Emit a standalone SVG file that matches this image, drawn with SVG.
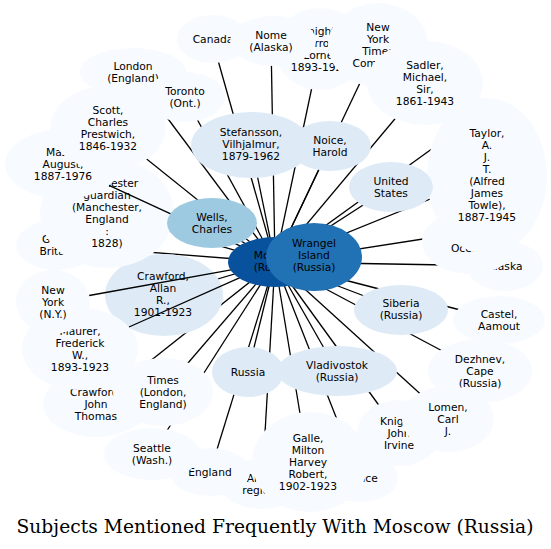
<svg xmlns="http://www.w3.org/2000/svg" width="551" height="549" viewBox="0 0 551 549">
<style>
text{font-family:"DejaVu Sans","Liberation Sans",sans-serif;font-size:10.7px;text-anchor:middle;fill:#000}
text.t{font-family:"DejaVu Serif","Liberation Serif",serif;font-size:18.67px}
.c1{fill:#f7fbff}.c2{fill:#deebf7}.c4{fill:#9ecae1}.c6{fill:#2171b5}.c8{fill:#08519c}
.e line{stroke:#000;stroke-width:1.3}
</style>
<rect width="551" height="549" fill="#fff"/>
<g id="edges" class="e">
<line x1="275" y1="262" x2="212" y2="39"/>
<line x1="275" y1="262" x2="271" y2="41"/>
<line x1="275" y1="262" x2="320" y2="49"/>
<line x1="275" y1="262" x2="378" y2="45"/>
<line x1="275" y1="262" x2="425" y2="83"/>
<line x1="275" y1="262" x2="465" y2="125"/>
<line x1="275" y1="262" x2="487" y2="176"/>
<line x1="275" y1="262" x2="468" y2="232"/>
<line x1="275" y1="262" x2="505" y2="266"/>
<line x1="275" y1="262" x2="499" y2="320"/>
<line x1="275" y1="262" x2="480" y2="371"/>
<line x1="275" y1="262" x2="448" y2="419"/>
<line x1="275" y1="262" x2="399" y2="433"/>
<line x1="275" y1="262" x2="360" y2="478"/>
<line x1="275" y1="262" x2="308" y2="462"/>
<line x1="275" y1="262" x2="262" y2="484"/>
<line x1="275" y1="262" x2="210" y2="472"/>
<line x1="275" y1="262" x2="152" y2="454"/>
<line x1="275" y1="262" x2="163" y2="392"/>
<line x1="275" y1="262" x2="96" y2="404"/>
<line x1="275" y1="262" x2="57" y2="245"/>
<line x1="275" y1="262" x2="107" y2="213"/>
<line x1="275" y1="262" x2="108" y2="128"/>
<line x1="275" y1="262" x2="133" y2="72"/>
<line x1="275" y1="262" x2="185" y2="97"/>
<line x1="275" y1="262" x2="251" y2="145"/>
<line x1="275" y1="262" x2="330" y2="146"/>
<line x1="275" y1="262" x2="391" y2="187"/>
<line x1="275" y1="262" x2="401" y2="310"/>
<line x1="275" y1="262" x2="248" y2="372"/>
<line x1="275" y1="262" x2="337" y2="371"/>
<line x1="275" y1="262" x2="164" y2="295"/>
<line x1="275" y1="262" x2="212" y2="223"/>
<line x1="275" y1="262" x2="314" y2="257"/>
</g>
<g id="crawford_allan"><ellipse class="c2" cx="164" cy="295" rx="59" ry="41"/><text x="163" y="280"><tspan x="163">Crawford,</tspan><tspan x="163" dy="12">Allan</tspan><tspan x="163" dy="12">R.,</tspan><tspan x="163" dy="12">1901-1923</tspan></text></g>
<g id="great_britain"><ellipse class="c1" cx="57" cy="245" rx="41" ry="25"/><text x="57" y="243"><tspan x="57">Great</tspan><tspan x="57" dy="12">Britain</tspan></text></g>
<g id="manchester_guardian"><ellipse class="c1" cx="107" cy="213" rx="67" ry="55"/><text x="107" y="187"><tspan x="107">Manchester</tspan><tspan x="107" dy="12">guardian</tspan><tspan x="107" dy="12">(Manchester,</tspan><tspan x="107" dy="12">England</tspan><tspan x="107" dy="12">:</tspan><tspan x="107" dy="12">1828)</tspan></text></g>
<g id="masik"><ellipse class="c1" cx="63" cy="164" rx="58" ry="35"/><text x="63" y="156"><tspan x="63">Masik,</tspan><tspan x="63" dy="12">August,</tspan><tspan x="63" dy="12">1887-1976</tspan></text></g>
<g id="scott"><ellipse class="c1" cx="108" cy="128" rx="58" ry="42"/><text x="108" y="114"><tspan x="108">Scott,</tspan><tspan x="108" dy="12">Charles</tspan><tspan x="108" dy="12">Prestwich,</tspan><tspan x="108" dy="12">1846-1932</tspan></text></g>
<g id="london"><ellipse class="c1" cx="133" cy="72" rx="53" ry="24"/><text x="133" y="70"><tspan x="133">London</tspan><tspan x="133" dy="12">(England)</tspan></text></g>
<g id="toronto"><ellipse class="c1" cx="185" cy="97" rx="40" ry="25"/><text x="185" y="95"><tspan x="185">Toronto</tspan><tspan x="185" dy="12">(Ont.)</tspan></text></g>
<g id="canada"><ellipse class="c1" cx="213" cy="39" rx="36" ry="24"/><text x="213" y="43">Canada</text></g>
<g id="knight_errol"><ellipse class="c1" cx="320" cy="49" rx="45" ry="41"/><text x="320" y="35"><tspan x="320">Knight,</tspan><tspan x="320" dy="12">Errol</tspan><tspan x="320" dy="12">Lorne,</tspan><tspan x="320" dy="12">1893-1923</tspan></text></g>
<g id="nome"><ellipse class="c1" cx="273" cy="41" rx="43" ry="25"/><text x="271" y="39"><tspan x="271">Nome</tspan><tspan x="271" dy="12">(Alaska)</tspan></text></g>
<g id="nyt"><ellipse class="c1" cx="378" cy="45" rx="50" ry="42"/><text x="378" y="31"><tspan x="378">New</tspan><tspan x="378" dy="12">York</tspan><tspan x="378" dy="12">Times</tspan><tspan x="378" dy="12">Company</tspan></text></g>
<g id="sadler"><ellipse class="c1" cx="425" cy="83" rx="58" ry="42"/><text x="425" y="69"><tspan x="425">Sadler,</tspan><tspan x="425" dy="12">Michael,</tspan><tspan x="425" dy="12">Sir,</tspan><tspan x="425" dy="12">1861-1943</tspan></text></g>
<g id="alaska"><ellipse class="c1" cx="505" cy="266" rx="38" ry="25"/><text x="505" y="270">Alaska</text></g>
<g id="arctic_ocean"><ellipse class="c1" cx="470" cy="242" rx="48" ry="32"/><text x="468" y="240"><tspan x="468">Arctic</tspan><tspan x="468" dy="12">Ocean</tspan></text></g>
<g id="taylor"><ellipse class="c1" cx="487" cy="176" rx="60" ry="78"/><text x="487" y="137"><tspan x="487">Taylor,</tspan><tspan x="487" dy="12">A.</tspan><tspan x="487" dy="12">J.</tspan><tspan x="487" dy="12">T.</tspan><tspan x="487" dy="12">(Alfred</tspan><tspan x="487" dy="12">James</tspan><tspan x="487" dy="12">Towle),</tspan><tspan x="487" dy="12">1887-1945</tspan></text></g>
<g id="castel"><ellipse class="c1" cx="499" cy="320" rx="46" ry="24"/><text x="499" y="318"><tspan x="499">Castel,</tspan><tspan x="499" dy="12">Aamout</tspan></text></g>
<g id="dezhnev"><ellipse class="c1" cx="480" cy="371" rx="52" ry="32"/><text x="480" y="363"><tspan x="480">Dezhnev,</tspan><tspan x="480" dy="12">Cape</tspan><tspan x="480" dy="12">(Russia)</tspan></text></g>
<g id="knight_john"><ellipse class="c1" cx="399" cy="433" rx="42" ry="33"/><text x="399" y="425"><tspan x="399">Knight,</tspan><tspan x="399" dy="12">John</tspan><tspan x="399" dy="12">Irvine</tspan></text></g>
<g id="lomen"><ellipse class="c1" cx="448" cy="419" rx="46" ry="33"/><text x="448" y="411"><tspan x="448">Lomen,</tspan><tspan x="448" dy="12">Carl</tspan><tspan x="448" dy="12">J.</tspan></text></g>
<g id="france"><ellipse class="c1" cx="360" cy="478" rx="38" ry="24"/><text x="360" y="482">France</text></g>
<g id="arctic_regions"><ellipse class="c1" cx="262" cy="484" rx="42" ry="25"/><text x="262" y="482"><tspan x="262">Arctic</tspan><tspan x="262" dy="12">regions</tspan></text></g>
<g id="galle"><ellipse class="c1" cx="310" cy="462" rx="58" ry="50"/><text x="308" y="442"><tspan x="308">Galle,</tspan><tspan x="308" dy="12">Milton</tspan><tspan x="308" dy="12">Harvey</tspan><tspan x="308" dy="12">Robert,</tspan><tspan x="308" dy="12">1902-1923</tspan></text></g>
<g id="england"><ellipse class="c1" cx="210" cy="472" rx="40" ry="24"/><text x="210" y="476">England</text></g>
<g id="seattle"><ellipse class="c1" cx="152" cy="454" rx="48" ry="26"/><text x="152" y="452"><tspan x="152">Seattle</tspan><tspan x="152" dy="12">(Wash.)</tspan></text></g>
<g id="crawford_john"><ellipse class="c1" cx="96" cy="404" rx="53" ry="33"/><text x="96" y="396"><tspan x="96">Crawford,</tspan><tspan x="96" dy="12">John</tspan><tspan x="96" dy="12">Thomas</tspan></text></g>
<g id="times"><ellipse class="c1" cx="163" cy="392" rx="50" ry="34"/><text x="163" y="384"><tspan x="163">Times</tspan><tspan x="163" dy="12">(London,</tspan><tspan x="163" dy="12">England)</tspan></text></g>
<g id="maurer"><ellipse class="c1" cx="80" cy="349" rx="58" ry="41"/><text x="80" y="335"><tspan x="80">Maurer,</tspan><tspan x="80" dy="12">Frederick</tspan><tspan x="80" dy="12">W.,</tspan><tspan x="80" dy="12">1893-1923</tspan></text></g>
<g id="new_york"><ellipse class="c1" cx="53" cy="302" rx="37" ry="32"/><text x="53" y="294"><tspan x="53">New</tspan><tspan x="53" dy="12">York</tspan><tspan x="53" dy="12">(N.Y.)</tspan></text></g>
<g id="noice"><ellipse class="c2" cx="330" cy="146" rx="41" ry="25"/><text x="330" y="144"><tspan x="330">Noice,</tspan><tspan x="330" dy="12">Harold</tspan></text></g>
<g id="stefansson"><ellipse class="c2" cx="251" cy="145" rx="60" ry="33"/><text x="251" y="136"><tspan x="251">Stefansson,</tspan><tspan x="251" dy="12">Vilhjalmur,</tspan><tspan x="251" dy="12">1879-1962</tspan></text></g>
<g id="united_states"><ellipse class="c2" cx="391" cy="187" rx="42" ry="25"/><text x="391" y="185"><tspan x="391">United</tspan><tspan x="391" dy="12">States</tspan></text></g>
<g id="siberia"><ellipse class="c2" cx="401" cy="310" rx="47" ry="25"/><text x="401" y="307"><tspan x="401">Siberia</tspan><tspan x="401" dy="12">(Russia)</tspan></text></g>
<g id="russia"><ellipse class="c2" cx="248" cy="372" rx="36" ry="25"/><text x="248" y="375.5">Russia</text></g>
<g id="vladivostok"><ellipse class="c2" cx="337" cy="371" rx="60" ry="25"/><text x="337" y="369"><tspan x="337">Vladivostok</tspan><tspan x="337" dy="12">(Russia)</tspan></text></g>
<g id="edges-over" class="e">
<line x1="109" y1="185.3" x2="275" y2="262"/>
<line x1="89.2" y1="295.5" x2="275" y2="262"/>
<line x1="129" y1="327" x2="275" y2="262"/>
</g>
<g id="wells"><ellipse class="c4" cx="212" cy="223" rx="45" ry="25"/><text x="212" y="221"><tspan x="212">Wells,</tspan><tspan x="212" dy="12">Charles</tspan></text></g>
<g id="moscow"><ellipse class="c8" cx="275" cy="262" rx="47" ry="25"/><text x="275" y="259"><tspan x="275">Moscow</tspan><tspan x="275" dy="12">(Russia)</tspan></text></g>
<g id="wrangel"><ellipse class="c6" cx="314" cy="257" rx="48" ry="34"/><text x="314" y="247"><tspan x="314">Wrangel</tspan><tspan x="314" dy="12">Island</tspan><tspan x="314" dy="12">(Russia)</tspan></text></g>
<text class="t" x="275" y="533" textLength="517" lengthAdjust="spacing">Subjects Mentioned Frequently With Moscow (Russia)</text>
</svg>
